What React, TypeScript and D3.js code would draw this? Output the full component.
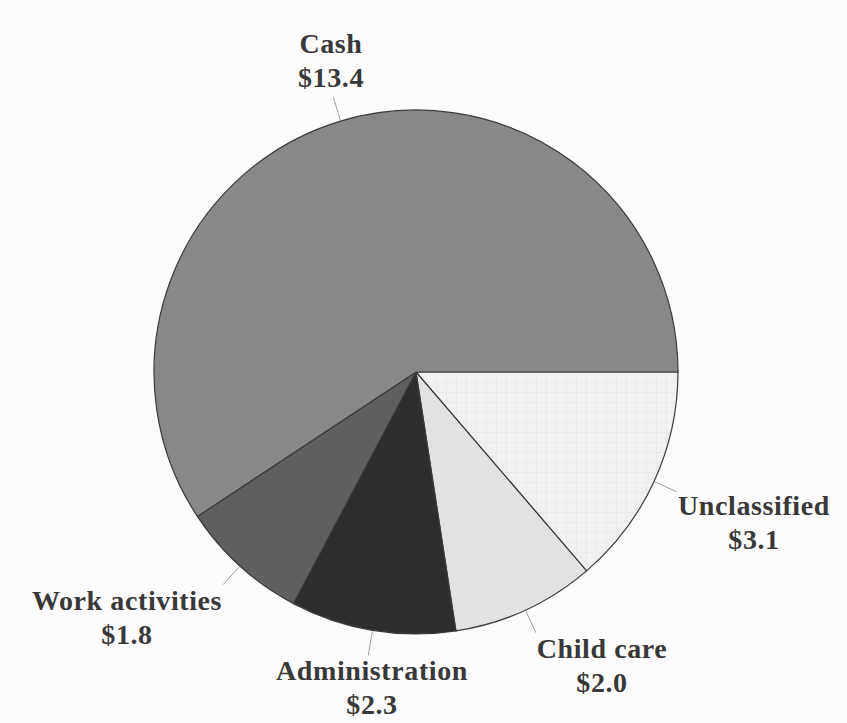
import React from "react";
import * as d3 from "d3";

const categories = ["Unclassified", "Child care", "Administration", "Work activities", "Cash"];
const values = [3.1, 2.0, 2.3, 1.8, 13.4];
const valueLabels = ["$3.1", "$2.0", "$2.3", "$1.8", "$13.4"];
const fills = ["url(#gridPattern)", "#e2e2e2", "#2e2e2e", "#5f5f5f", "#888888"];
// label text anchor (center x, first baseline y)
const labelPos: [number, number][] = [
  [754, 515],
  [602, 658],
  [372, 680],
  [127, 610],
  [331, 53],
];

const W = 847;
const H = 723;
const cx = 416;
const cy = 372;
const R = 262;
const LEADER = 25;

export default function App() {
  const pie = d3
    .pie<number>()
    .sort(null)
    .value((d) => d)
    .startAngle(Math.PI / 2)
    .endAngle(Math.PI / 2 + 2 * Math.PI);
  const arcs = pie(values);
  const arc = d3.arc<d3.PieArcDatum<number>>().innerRadius(0).outerRadius(R);

  return (
    <div style={{ position: "absolute", left: 0, top: 0 }}>
      <svg width={W} height={H} style={{ display: "block", background: "#fcfcfc" }}>
        <defs>
          <pattern id="gridPattern" width={10} height={10} patternUnits="userSpaceOnUse">
            <rect width={10} height={10} fill="#f1f1f1" />
            <path d="M0 0.5H10M0.5 0V10" stroke="#e9e9e9" strokeWidth={1} />
          </pattern>
        </defs>
        <g transform={`translate(${cx},${cy})`}>
          {arcs.map((a, i) => (
            <path key={i} d={arc(a) || ""} fill={fills[i]} stroke="#3a3a3a" strokeWidth={1.2} />
          ))}
          {arcs.map((a, i) => {
            const mid = (a.startAngle + a.endAngle) / 2;
            const x1 = Math.sin(mid) * (R + 1);
            const y1 = -Math.cos(mid) * (R + 1);
            const x2 = Math.sin(mid) * (R + LEADER);
            const y2 = -Math.cos(mid) * (R + LEADER);
            return <line key={"l" + i} x1={x1} y1={y1} x2={x2} y2={y2} stroke="#a0a0a0" strokeWidth={1} />;
          })}
        </g>
        {categories.map((c, i) => (
          <text
            key={"t" + i}
            x={labelPos[i][0]}
            y={labelPos[i][1]}
            textAnchor="middle"
            fontFamily="'Liberation Serif', 'Times New Roman', serif"
            fontWeight="bold"
            fontSize={28}
            letterSpacing={0.6}
            fill="#383838"
          >
            <tspan x={labelPos[i][0]}>{c}</tspan>
            <tspan x={labelPos[i][0]} dy={34}>
              {valueLabels[i]}
            </tspan>
          </text>
        ))}
      </svg>
    </div>
  );
}
